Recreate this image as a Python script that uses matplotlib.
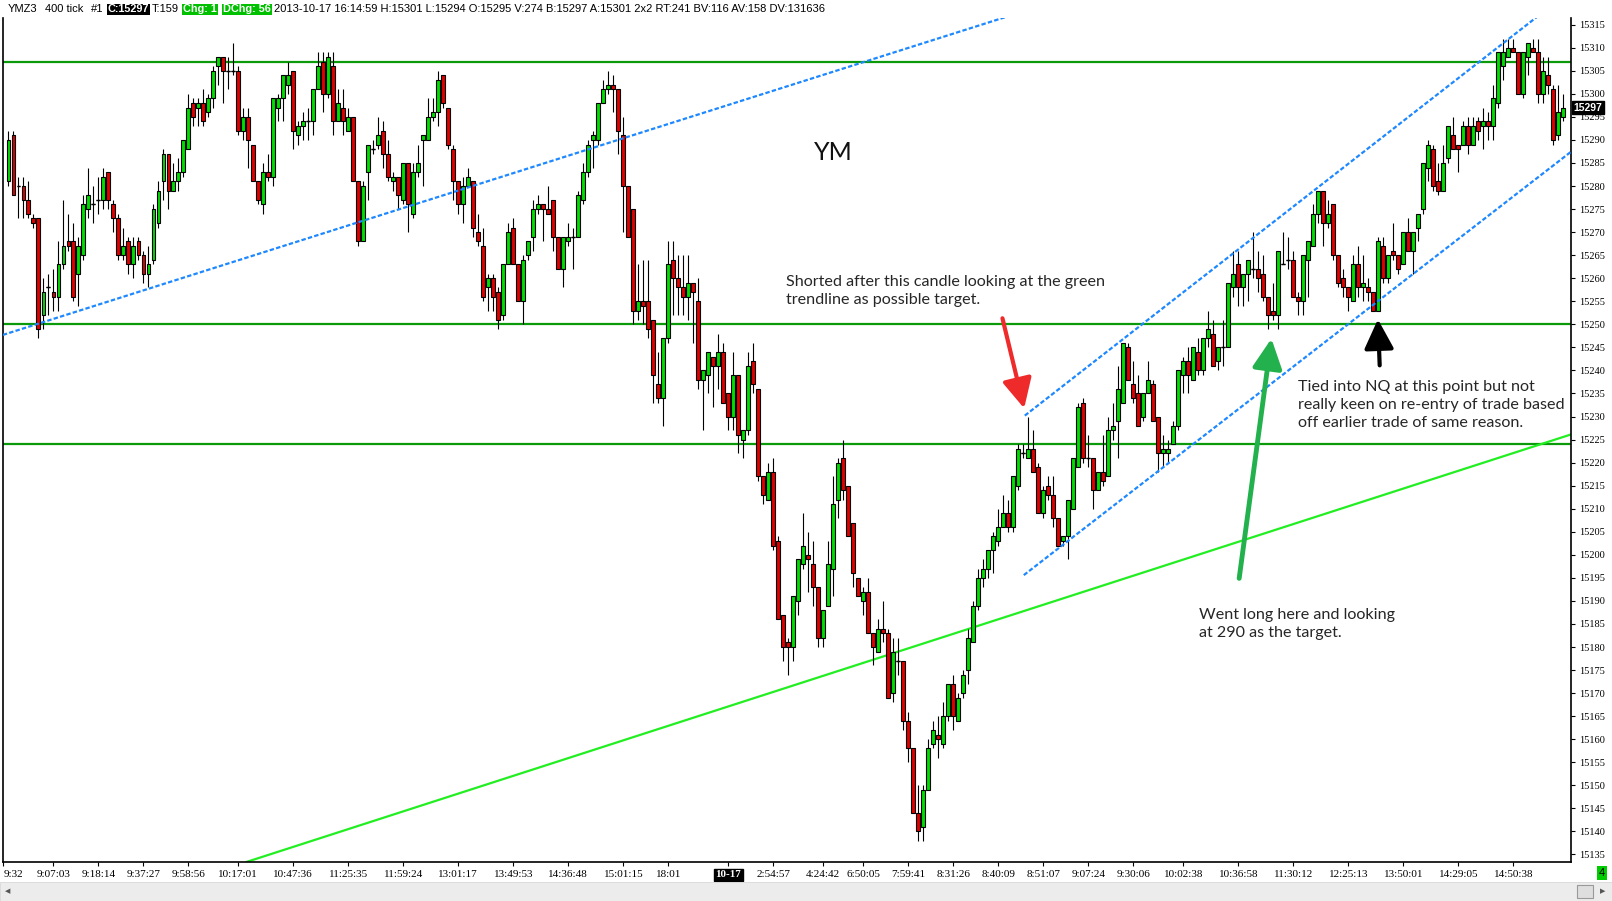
import numpy as np
import matplotlib
matplotlib.use('Agg')
import matplotlib.pyplot as plt
from matplotlib.patches import Rectangle

# YMZ3 400 tick candles (open, high, low, close)
opens = [15281, 15291, 15280, 15280, 15277, 15273, 15273, 15252, 15258, 15257,
         15256, 15263, 15268, 15268, 15261, 15265, 15275, 15276, 15277, 15277,
         15283, 15276, 15273, 15265, 15268, 15263, 15268, 15265, 15261, 15264,
         15272, 15281, 15287, 15279, 15281, 15283, 15288, 15298, 15297, 15298,
         15296, 15299, 15306, 15308, 15305, 15305, 15305, 15292, 15295, 15289,
         15281, 15276, 15283, 15282, 15297, 15299, 15302, 15305, 15291, 15293,
         15294, 15294, 15301, 15307, 15300, 15306, 15294, 15297, 15292, 15295,
         15281, 15268, 15283, 15288, 15289, 15292, 15287, 15281, 15282, 15277,
         15285, 15274, 15283, 15290, 15290, 15295, 15296, 15304, 15297, 15288,
         15281, 15276, 15280, 15281, 15270, 15267, 15258, 15260, 15257, 15252,
         15263, 15271, 15263, 15255, 15265, 15269, 15275, 15276, 15275, 15277,
         15269, 15262, 15268, 15269, 15269, 15277, 15283, 15290, 15290, 15298,
         15301, 15302, 15301, 15291, 15280, 15275, 15253, 15255, 15255, 15251,
         15237, 15234, 15247, 15264, 15260, 15258, 15256, 15259, 15255, 15238,
         15239, 15243, 15241, 15244, 15235, 15230, 15239, 15225, 15227, 15242,
         15236, 15217, 15212, 15218, 15203, 15187, 15181, 15180, 15190, 15198,
         15200, 15198, 15193, 15182, 15189, 15197, 15212, 15221, 15215, 15207,
         15195, 15190, 15192, 15183, 15179, 15184, 15183, 15170, 15177, 15177,
         15164, 15158, 15144, 15141, 15149, 15159, 15161, 15159, 15165, 15172,
         15164, 15170, 15175, 15181, 15189, 15195, 15197, 15201, 15203, 15206,
         15209, 15206, 15215, 15222, 15221, 15223, 15219, 15209, 15215, 15213,
         15208, 15203, 15204, 15210, 15219, 15233, 15221, 15221, 15214, 15218,
         15217, 15227, 15229, 15233, 15245, 15237, 15235, 15230, 15235, 15237,
         15230, 15222, 15222, 15224, 15228, 15239, 15242, 15238, 15244, 15240,
         15247, 15248, 15242, 15245, 15245, 15258, 15263, 15258, 15261, 15262,
         15262, 15261, 15256, 15253, 15252, 15263, 15264, 15264, 15256, 15255,
         15264, 15267, 15274, 15279, 15272, 15276, 15265, 15260, 15258, 15255,
         15263, 15258, 15258, 15257, 15253, 15267, 15260, 15266, 15265, 15263,
         15270, 15266, 15271, 15275, 15284, 15288, 15281, 15279, 15286, 15291,
         15289, 15289, 15293, 15289, 15294, 15293, 15294, 15293, 15298, 15306,
         15308, 15310, 15309, 15300, 15308, 15310, 15309, 15300, 15304, 15301,
         15291, 15295]
highs = [15292, 15292, 15282, 15282, 15281, 15274, 15273, 15260, 15261, 15262,
         15268, 15277, 15274, 15272, 15269, 15278, 15284, 15280, 15282, 15284,
         15283, 15277, 15274, 15271, 15269, 15269, 15269, 15266, 15267, 15276,
         15281, 15288, 15287, 15285, 15286, 15290, 15300, 15299, 15299, 15301,
         15300, 15306, 15308, 15308, 15308, 15311, 15306, 15297, 15297, 15289,
         15281, 15285, 15287, 15299, 15300, 15304, 15307, 15305, 15294, 15296,
         15297, 15301, 15309, 15309, 15309, 15309, 15301, 15301, 15297, 15295,
         15281, 15281, 15289, 15290, 15295, 15294, 15290, 15283, 15282, 15285,
         15285, 15285, 15289, 15291, 15299, 15299, 15305, 15304, 15297, 15289,
         15281, 15282, 15284, 15281, 15274, 15271, 15261, 15261, 15258, 15263,
         15272, 15273, 15263, 15265, 15268, 15277, 15278, 15276, 15280, 15277,
         15269, 15269, 15272, 15271, 15279, 15285, 15290, 15292, 15298, 15303,
         15305, 15304, 15301, 15295, 15280, 15275, 15263, 15264, 15264, 15251,
         15244, 15247, 15268, 15268, 15265, 15265, 15265, 15259, 15260, 15240,
         15244, 15243, 15248, 15246, 15235, 15244, 15239, 15227, 15244, 15246,
         15236, 15217, 15220, 15221, 15204, 15187, 15182, 15191, 15199, 15209,
         15205, 15203, 15193, 15188, 15203, 15217, 15221, 15225, 15215, 15207,
         15195, 15193, 15195, 15183, 15186, 15190, 15184, 15182, 15182, 15177,
         15166, 15158, 15150, 15150, 15160, 15164, 15165, 15168, 15172, 15174,
         15170, 15175, 15184, 15190, 15197, 15199, 15201, 15205, 15210, 15213,
         15212, 15217, 15224, 15224, 15230, 15227, 15220, 15215, 15217, 15217,
         15208, 15204, 15212, 15221, 15233, 15234, 15226, 15221, 15218, 15226,
         15230, 15233, 15241, 15246, 15246, 15242, 15239, 15235, 15242, 15238,
         15230, 15226, 15225, 15229, 15240, 15243, 15245, 15245, 15247, 15247,
         15253, 15251, 15245, 15251, 15259, 15266, 15266, 15261, 15264, 15270,
         15266, 15265, 15256, 15259, 15266, 15270, 15269, 15266, 15257, 15265,
         15268, 15276, 15279, 15279, 15277, 15276, 15265, 15262, 15258, 15265,
         15267, 15265, 15260, 15257, 15269, 15269, 15265, 15272, 15265, 15270,
         15273, 15270, 15274, 15285, 15290, 15289, 15285, 15289, 15293, 15295,
         15289, 15294, 15295, 15295, 15295, 15297, 15296, 15302, 15309, 15312,
         15312, 15312, 15309, 15309, 15311, 15312, 15312, 15308, 15308, 15302,
         15302, 15300]
lows = [15280, 15278, 15273, 15273, 15273, 15271, 15247, 15249, 15252, 15253,
        15253, 15262, 15266, 15255, 15254, 15264, 15273, 15272, 15274, 15275,
        15275, 15270, 15264, 15264, 15261, 15260, 15264, 15259, 15258, 15263,
        15271, 15277, 15275, 15279, 15279, 15282, 15288, 15293, 15293, 15293,
        15295, 15297, 15302, 15298, 15301, 15304, 15291, 15290, 15284, 15281,
        15276, 15274, 15281, 15280, 15294, 15294, 15300, 15288, 15289, 15290,
        15290, 15291, 15301, 15296, 15299, 15291, 15294, 15291, 15292, 15281,
        15267, 15268, 15277, 15287, 15288, 15284, 15281, 15279, 15275, 15276,
        15270, 15273, 15282, 15280, 15290, 15294, 15293, 15297, 15288, 15277,
        15274, 15272, 15280, 15269, 15267, 15255, 15253, 15253, 15249, 15251,
        15263, 15263, 15255, 15250, 15264, 15266, 15274, 15268, 15274, 15266,
        15262, 15258, 15267, 15262, 15269, 15276, 15282, 15284, 15289, 15298,
        15300, 15296, 15287, 15270, 15269, 15250, 15251, 15250, 15247, 15233,
        15233, 15228, 15246, 15252, 15252, 15252, 15251, 15246, 15236, 15227,
        15235, 15232, 15236, 15233, 15227, 15227, 15222, 15221, 15226, 15235,
        15216, 15211, 15212, 15201, 15186, 15177, 15174, 15177, 15187, 15197,
        15192, 15189, 15180, 15180, 15189, 15191, 15208, 15212, 15204, 15193,
        15191, 15187, 15183, 15176, 15179, 15181, 15169, 15168, 15174, 15162,
        15155, 15144, 15138, 15138, 15149, 15158, 15156, 15158, 15164, 15162,
        15164, 15169, 15172, 15181, 15188, 15193, 15195, 15196, 15202, 15206,
        15205, 15205, 15214, 15221, 15221, 15218, 15209, 15208, 15212, 15206,
        15202, 15202, 15199, 15210, 15219, 15220, 15219, 15210, 15214, 15215,
        15217, 15225, 15221, 15233, 15238, 15233, 15228, 15229, 15235, 15229,
        15218, 15219, 15220, 15224, 15227, 15235, 15235, 15238, 15239, 15239,
        15245, 15241, 15240, 15241, 15245, 15256, 15254, 15254, 15255, 15260,
        15257, 15255, 15249, 15251, 15249, 15263, 15262, 15256, 15252, 15252,
        15256, 15267, 15272, 15267, 15271, 15264, 15258, 15256, 15253, 15255,
        15256, 15255, 15255, 15253, 15253, 15259, 15259, 15264, 15261, 15263,
        15266, 15261, 15268, 15274, 15281, 15279, 15278, 15279, 15285, 15288,
        15283, 15289, 15287, 15289, 15290, 15288, 15290, 15290, 15297, 15303,
        15308, 15309, 15300, 15299, 15304, 15309, 15298, 15298, 15300, 15289,
        15290, 15294]
closes = [15290, 15278, 15280, 15277, 15274, 15272, 15249, 15257, 15258, 15256,
          15263, 15267, 15267, 15256, 15267, 15276, 15278, 15276, 15277, 15282,
          15277, 15273, 15265, 15267, 15263, 15267, 15265, 15261, 15263, 15275,
          15279, 15287, 15279, 15281, 15283, 15290, 15297, 15295, 15298, 15294,
          15299, 15305, 15308, 15305, 15305, 15305, 15292, 15295, 15290, 15281,
          15277, 15283, 15282, 15299, 15299, 15304, 15304, 15292, 15293, 15294,
          15294, 15301, 15306, 15300, 15308, 15294, 15298, 15294, 15295, 15281,
          15268, 15280, 15289, 15288, 15291, 15287, 15282, 15282, 15278, 15285,
          15276, 15283, 15285, 15291, 15295, 15296, 15303, 15298, 15289, 15281,
          15276, 15280, 15282, 15271, 15268, 15256, 15260, 15256, 15251, 15263,
          15270, 15263, 15255, 15264, 15268, 15275, 15276, 15275, 15274, 15269,
          15262, 15269, 15269, 15269, 15278, 15283, 15289, 15291, 15298, 15301,
          15302, 15301, 15292, 15280, 15269, 15253, 15255, 15254, 15249, 15239,
          15234, 15247, 15263, 15260, 15258, 15256, 15259, 15257, 15238, 15240,
          15244, 15241, 15244, 15233, 15230, 15239, 15226, 15227, 15241, 15237,
          15217, 15213, 15218, 15202, 15186, 15180, 15180, 15191, 15199, 15202,
          15199, 15193, 15182, 15188, 15198, 15211, 15220, 15214, 15204, 15196,
          15191, 15192, 15183, 15180, 15184, 15183, 15169, 15179, 15177, 15164,
          15158, 15144, 15140, 15149, 15158, 15162, 15160, 15165, 15172, 15165,
          15169, 15174, 15182, 15189, 15195, 15197, 15201, 15204, 15206, 15209,
          15206, 15217, 15223, 15222, 15223, 15218, 15209, 15214, 15213, 15208,
          15202, 15204, 15212, 15221, 15232, 15221, 15221, 15214, 15218, 15216,
          15227, 15228, 15236, 15246, 15238, 15234, 15228, 15235, 15238, 15229,
          15222, 15223, 15223, 15228, 15240, 15242, 15239, 15245, 15240, 15247,
          15249, 15241, 15245, 15245, 15259, 15261, 15258, 15261, 15264, 15262,
          15260, 15256, 15252, 15252, 15266, 15263, 15264, 15256, 15255, 15265,
          15268, 15274, 15279, 15272, 15274, 15265, 15259, 15258, 15256, 15263,
          15258, 15259, 15257, 15253, 15268, 15260, 15265, 15265, 15262, 15270,
          15266, 15270, 15274, 15285, 15289, 15280, 15279, 15285, 15293, 15288,
          15288, 15293, 15289, 15293, 15292, 15294, 15293, 15299, 15309, 15309,
          15310, 15309, 15300, 15309, 15311, 15309, 15300, 15305, 15302, 15290,
          15296, 15297]

# horizontal support / resistance levels
h_levels = [15307, 15250, 15224]
# trendlines as (bar index, price) end points
green_trend = [(47.7, 15133.4), (312.5, 15226.1)]
blue_long = [(-1.1, 15247.7), (199.3, 15316.6)]
blue_upper = [(203.3, 15230.2), (306.1, 15317.0)]
blue_lower = [(203.1, 15195.6), (312.5, 15287.4)]

# time axis labels and the bar index under each one
time_pos = [-1, 9, 18, 27, 36, 46, 57, 68, 79, 90, 101, 112, 123, 132, 144, 153,
            163, 171, 180, 189, 198, 207, 216, 225, 235, 246, 257, 268, 279, 290, 301]
time_labels = ['9:32', '9:07:03', '9:18:14', '9:37:27', '9:58:56', '10:17:01',
               '10:47:36', '11:25:35', '11:59:24', '13:01:17', '13:49:53', '14:36:48',
               '15:01:15', '18:01', '10-17', '2:54:57', '4:24:42', '6:50:05', '7:59:41',
               '8:31:26', '8:40:09', '8:51:07', '9:07:24', '9:30:06', '10:02:38',
               '10:36:58', '11:30:12', '12:25:13', '13:50:01', '14:29:05', '14:50:38']
price_ticks = list(range(15135, 15316, 5))
last_price = 15297

W, H = 1612, 901
fig = plt.figure(figsize=(W / 100, H / 100), dpi=100)
fig.patch.set_facecolor('white')
ax = fig.add_axes([2.7 / W, 1 - 862 / H, (1571 - 2.7) / W, (862 - 18) / H])

o = np.array(opens)
h = np.array(highs)
l = np.array(lows)
c = np.array(closes)
x = np.arange(len(o))

up = c >= o
body_lo = np.minimum(o, c)
body_hi = np.maximum(o, c)
ax.vlines(x, l, h, color='black', lw=0.8, zorder=3)
ax.bar(x, body_hi - body_lo, bottom=body_lo, width=0.72,
       color=np.where(up, '#00dd00', '#e00000'), edgecolor='black', lw=0.8, zorder=4)
# doji: flat bars drawn as a dash
flat = body_hi == body_lo
ax.hlines(c[flat], x[flat] - 0.36, x[flat] + 0.36, color='black', lw=1, zorder=4)

for lev in h_levels:
    ax.axhline(lev, color='#0a9a0a', lw=1.6, zorder=2)

ax.plot(*zip(*green_trend), color='#22ee22', lw=1.6, zorder=2)
for seg in (blue_long, blue_upper, blue_lower):
    ax.plot(*zip(*seg), color='#1e88ff', lw=1.6, ls=(0, (2, 1)), zorder=5)

ax.set_xlim(-1.12, 312.54)
ax.set_ylim(15133.37, 15316.45)

# right price scale
ax.yaxis.tick_right()
ax.set_yticks(price_ticks)
ax.set_yticklabels([str(p) for p in price_ticks], family='Liberation Serif', fontsize=7.5)
ax.tick_params(axis='y', length=3, width=0.8, pad=3)
ax.text(1.0015, last_price, str(last_price), transform=ax.get_yaxis_transform(),
        color='white', fontsize=7.5, fontweight='bold', family='Liberation Sans',
        va='center', ha='left',
        bbox=dict(facecolor='black', edgecolor='black', pad=1.2), zorder=10, clip_on=False)

# time scale
ax.set_xticks(time_pos)
ax.set_xticklabels(time_labels, family='Liberation Serif', fontsize=8)
ax.tick_params(axis='x', length=3, width=0.8, pad=3)
for lab in ax.get_xticklabels():
    if lab.get_text() == '10-17':
        lab.set_color('white')
        lab.set_fontweight('bold')
        lab.set_bbox(dict(facecolor='black', edgecolor='black', pad=1))
    if lab.get_text() == '9:32':
        lab.set_horizontalalignment('left')

ax.spines['top'].set_visible(False)
for s in ('left', 'right', 'bottom'):
    ax.spines[s].set_linewidth(1.2)

# chart notes
ax.text(165, 15287.2, 'YM', fontsize=18, ha='center', va='center',
        family=['Lato', 'DejaVu Sans'], color='#111111')
note_kw = dict(fontsize=11.6, family=['Lato', 'DejaVu Sans'], color='#262626',
               va='top', ha='left', linespacing=1.4)
ax.text(155.6, 15260.8, 'Shorted after this candle looking at the green\n'
        'trendline as possible target.', **note_kw)
ax.text(258, 15238.0, 'Tied into NQ at this point but not\n'
        'really keen on re-entry of trade based\noff earlier trade of same reason.', **note_kw)
ax.text(238.1, 15188.5, 'Went long here and looking\nat 290 as the target.', **note_kw)

ax.annotate('', xy=(203.3, 15231.2), xytext=(198.7, 15251.9),
            arrowprops=dict(arrowstyle='-|>,head_length=0.9,head_width=0.45',
                            color='#ee2a2a', lw=3, mutation_scale=20), zorder=6)
ax.annotate('', xy=(252.7, 15247.5), xytext=(246.1, 15194.3),
            arrowprops=dict(arrowstyle='-|>,head_length=0.9,head_width=0.45',
                            color='#22b14c', lw=3.5, mutation_scale=20), zorder=6)
ax.annotate('', xy=(273.9, 15251.7), xytext=(274.3, 15240.5),
            arrowprops=dict(arrowstyle='-|>,head_length=0.9,head_width=0.45',
                            color='black', lw=3, mutation_scale=20), zorder=6)

# header strip
hy = 1 - 9.5 / H
hdr = dict(fontsize=8, family='Liberation Sans', va='center', ha='left')
box_hdr = dict(fontsize=7.8, family='Liberation Sans', va='center', ha='left',
               color='white', fontweight='bold')
fig.text(8 / W, hy, 'YMZ3', **hdr)
fig.text(45 / W, hy, '400 tick', **hdr)
fig.text(91 / W, hy, '#1', **hdr)
fig.text(108 / W, hy, 'C:15297', bbox=dict(facecolor='black', edgecolor='none', pad=0.6),
         **box_hdr)
fig.text(152 / W, hy, 'T:159', **hdr)
fig.text(183 / W, hy, 'Chg: 1', bbox=dict(facecolor='#00c000', edgecolor='none', pad=0.6),
         **box_hdr)
fig.text(223 / W, hy, 'DChg: 56', bbox=dict(facecolor='#00c000', edgecolor='none', pad=0.6),
         **box_hdr)
fig.text(274 / W, hy, '2013-10-17 16:14:59 H:15301 L:15294 O:15295 V:274 B:15297 '
         'A:15301 2x2 RT:241 BV:116 AV:158 DV:131636', **hdr)

# scroll bar strip at the bottom
fig.patches.append(Rectangle((0, 0), 1, (H - 882) / H, transform=fig.transFigure,
                             facecolor='#ececec', edgecolor='#d8d8d8', lw=0.6))
fig.patches.append(Rectangle((1577 / W, 3 / H), 16 / W, 13 / H, transform=fig.transFigure,
                             facecolor='#dedede', edgecolor='#999999', lw=0.8))
fig.text(8 / W, 9.5 / H, '\u25c0', fontsize=5, color='#555555', va='center', ha='center')
fig.text(1603 / W, 9.5 / H, '\u25b6', fontsize=5, color='#555555', va='center', ha='center')
fig.text(1602 / W, 1 - 873 / H, '4', fontsize=8, family='Liberation Sans', color='black',
         va='center', ha='center', bbox=dict(facecolor='#00cc00', edgecolor='none', pad=1.2))

fig.savefig('out.png', dpi=100)
